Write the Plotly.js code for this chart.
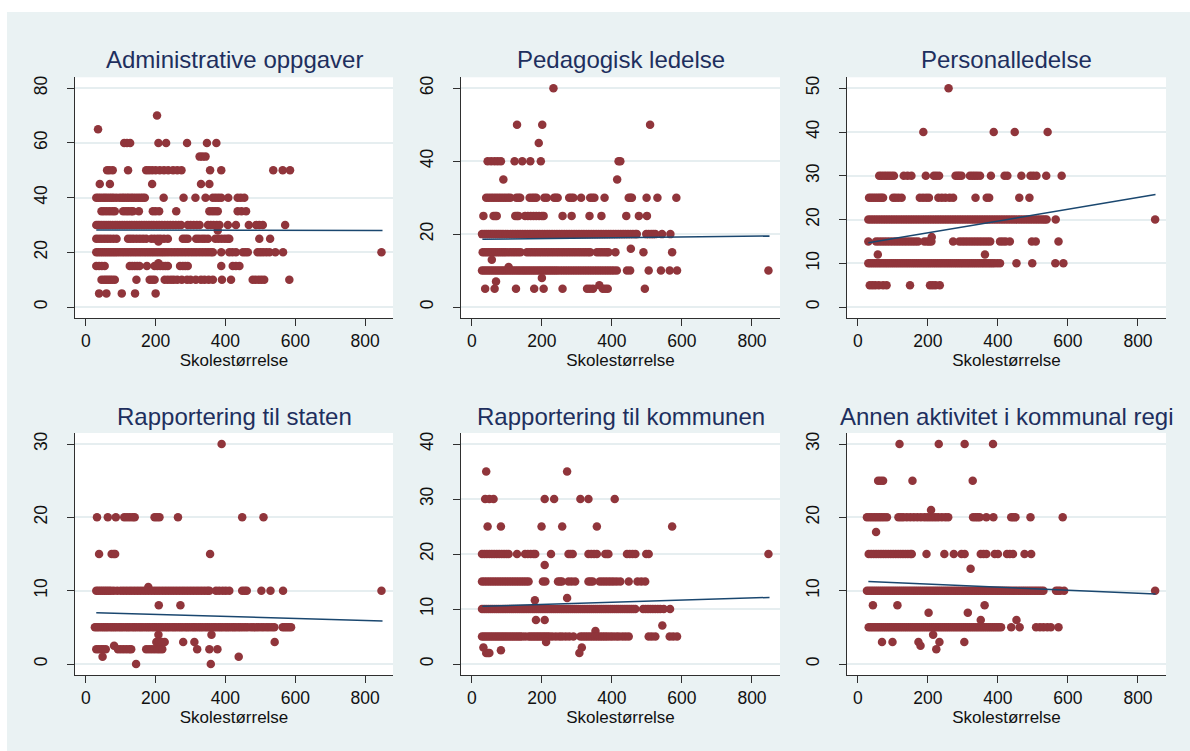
<!DOCTYPE html>
<html><head><meta charset="utf-8">
<script src="https://cdn.plot.ly/plotly-3.0.1.min.js"></script>
<style>html,body{margin:0;padding:0;background:#fff;} #chart{width:1190px;height:751px;}</style>
</head><body><div id="chart"></div><script>
// ---------------- data ----------------
const titles = ["Administrative oppgaver", "Pedagogisk ledelse", "Personalledelse",
                "Rapportering til staten", "Rapportering til kommunen", "Annen aktivitet i kommunal regi"];
const xTitle = "Skolestørrelse";
const xTicks = [0, 200, 400, 600, 800];
const yTicks1 = [0, 20, 40, 60, 80];
const yTicks2 = [0, 20, 40, 60];
const yTicks3 = [0, 10, 20, 30, 40, 50];
const yTicks4 = [0, 10, 20, 30];
const yTicks5 = [0, 10, 20, 30, 40];
const yTicks6 = [0, 10, 20, 30];

// rows: [y value, [school sizes x]]
const adminRows = [
 [70, [204]],
 [65, [35]],
 [60, [110, 118, 127, 208, 230, 290, 347, 374]],
 [55, [326, 334, 343]],
 [50, [61, 68, 77, 121, 173, 181, 190, 200, 212, 224, 236, 250, 262, 274, 356, 388, 537, 564, 585]],
 [45, [40, 69, 190, 330, 354]],
 [40, [30, 36, 42, 49, 55, 61, 68, 74, 80, 88, 97, 104, 110, 117, 123, 130, 136, 143, 150, 157, 163, 169, 223, 280, 314, 343, 364, 372, 380, 388, 408, 435, 444, 454]],
 [35, [45, 52, 60, 68, 76, 83, 107, 115, 122, 130, 135, 152, 192, 200, 210, 259, 354, 362, 370, 378, 435, 446, 459]],
 [30, [30, 35, 40, 46, 52, 58, 64, 70, 77, 84, 90, 97, 104, 111, 118, 125, 132, 139, 146, 153, 160, 167, 174, 181, 188, 195, 203, 210, 218, 226, 234, 242, 250, 258, 266, 273, 292, 300, 309, 318, 326, 350, 358, 366, 375, 383, 407, 430, 467, 488, 497, 507, 571]],
 [28, [378]],
 [25, [30, 38, 46, 54, 62, 70, 79, 88, 121, 129, 137, 146, 155, 164, 173, 188, 197, 206, 214, 224, 235, 278, 285, 292, 316, 324, 333, 341, 350, 371, 380, 389, 398, 406, 411, 497, 528]],
 [24, [208]],
 [20, [30, 36, 42, 48, 54, 60, 66, 72, 78, 84, 90, 97, 104, 111, 118, 125, 132, 139, 146, 153, 160, 167, 174, 181, 188, 195, 202, 209, 216, 223, 230, 238, 246, 254, 262, 270, 278, 286, 294, 302, 310, 318, 326, 334, 342, 350, 358, 364, 388, 411, 420, 430, 450, 457, 464, 492, 500, 508, 517, 526, 543, 565, 847]],
 [16, [208]],
 [15, [30, 38, 46, 54, 126, 133, 140, 147, 154, 175, 197, 205, 213, 221, 228, 235, 270, 278, 285, 292, 388, 421, 430, 440]],
 [10, [45, 52, 58, 64, 70, 76, 83, 145, 183, 190, 197, 226, 235, 244, 252, 262, 275, 290, 300, 315, 330, 340, 352, 364, 390, 416, 478, 486, 495, 503, 511, 583]],
 [5, [38, 59, 103, 141, 200]]
];
const pedRows = [
 [60, [233]],
 [50, [129, 201, 509]],
 [45, [191]],
 [40, [45, 55, 65, 74, 83, 122, 144, 167, 197, 419, 424]],
 [35, [90, 415]],
 [30, [41, 48, 55, 62, 69, 76, 83, 90, 97, 104, 110, 127, 133, 138, 165, 172, 178, 184, 207, 214, 235, 240, 245, 278, 284, 290, 312, 338, 344, 350, 379, 448, 453, 457, 499, 530, 584]],
 [25, [33, 62, 67, 71, 124, 129, 133, 152, 160, 168, 176, 184, 192, 200, 205, 259, 285, 336, 370, 441, 477, 500]],
 [20, [29, 35, 41, 47, 53, 59, 65, 71, 77, 83, 89, 96, 103, 110, 117, 124, 131, 138, 145, 152, 159, 166, 173, 180, 187, 194, 201, 208, 215, 222, 229, 236, 243, 250, 257, 264, 271, 278, 285, 292, 299, 306, 313, 320, 327, 334, 341, 348, 355, 362, 369, 376, 383, 390, 397, 404, 411, 418, 425, 432, 439, 446, 453, 460, 467, 471, 498, 505, 512, 518, 524, 543, 567]],
 [16, [454]],
 [15, [31, 37, 43, 49, 55, 61, 67, 73, 79, 85, 91, 97, 104, 111, 118, 125, 132, 139, 157, 164, 171, 178, 185, 192, 199, 206, 213, 220, 227, 234, 241, 248, 255, 262, 269, 276, 283, 290, 297, 304, 311, 318, 325, 332, 338, 357, 364, 371, 378, 385, 390, 410, 490, 572]],
 [13, [57]],
 [11, [105]],
 [10, [29, 35, 41, 47, 53, 59, 65, 71, 77, 83, 89, 95, 101, 107, 113, 119, 125, 131, 137, 143, 149, 155, 161, 167, 173, 179, 185, 191, 197, 203, 209, 215, 221, 227, 233, 239, 245, 252, 259, 266, 273, 280, 287, 294, 301, 308, 315, 322, 329, 336, 343, 350, 357, 364, 371, 378, 385, 392, 399, 406, 414, 443, 452, 505, 540, 565, 586, 847]],
 [8, [200]],
 [7, [69]],
 [6, [364]],
 [5, [38, 65, 126, 178, 205, 259, 329, 337, 346, 374, 381, 388, 494]]
];
const persRows = [
 [50, [259]],
 [40, [187, 388, 448, 542]],
 [30, [61, 68, 75, 82, 89, 96, 103, 131, 142, 153, 194, 217, 224, 232, 279, 285, 290, 296, 320, 327, 334, 341, 349, 380, 419, 427, 467, 493, 501, 510, 538, 582]],
 [25, [32, 38, 44, 50, 56, 62, 67, 72, 101, 108, 116, 125, 177, 186, 195, 203, 230, 240, 250, 262, 272, 336, 368, 375, 461, 490]],
 [20, [30, 37, 44, 51, 58, 65, 72, 79, 86, 93, 100, 107, 114, 121, 128, 135, 142, 149, 156, 163, 170, 177, 184, 191, 198, 205, 212, 219, 226, 233, 240, 247, 254, 261, 268, 275, 282, 289, 296, 303, 310, 317, 324, 331, 338, 345, 352, 359, 366, 373, 380, 387, 394, 401, 408, 415, 422, 429, 436, 443, 450, 457, 464, 471, 478, 485, 492, 499, 506, 513, 520, 527, 533, 539, 565, 849]],
 [16, [211]],
 [15, [30, 52, 60, 68, 76, 84, 92, 100, 108, 116, 124, 132, 140, 148, 156, 164, 172, 190, 198, 204, 210, 272, 290, 298, 306, 314, 322, 330, 338, 346, 354, 362, 370, 378, 406, 414, 422, 434, 497, 508, 573]],
 [12, [57, 363]],
 [10, [30, 36, 42, 48, 54, 60, 66, 72, 78, 84, 90, 96, 102, 108, 114, 120, 126, 132, 138, 144, 150, 156, 162, 168, 174, 180, 186, 192, 198, 204, 210, 216, 222, 228, 234, 240, 246, 252, 258, 264, 270, 276, 282, 288, 294, 300, 306, 312, 318, 324, 330, 336, 342, 348, 354, 360, 366, 372, 378, 384, 390, 398, 406, 453, 498, 564, 587]],
 [5, [34, 42, 50, 60, 72, 82, 149, 206, 214, 222, 234]]
];
const statRows = [
 [30, [389]],
 [20, [32, 63, 86, 110, 118, 126, 134, 140, 197, 204, 211, 264, 448, 509]],
 [15, [38, 74, 80, 84, 356]],
 [10.5, [179]],
 [10, [30, 36, 42, 48, 54, 60, 66, 72, 80, 90, 100, 108, 116, 124, 132, 140, 148, 156, 164, 172, 180, 188, 196, 204, 212, 220, 228, 236, 244, 252, 260, 268, 276, 284, 292, 300, 308, 316, 324, 332, 340, 348, 354, 373, 382, 392, 401, 411, 448, 455, 461, 503, 529, 565, 847]],
 [8, [209, 271]],
 [5, [26, 32, 38, 45, 51, 57, 63, 70, 76, 82, 88, 95, 101, 107, 114, 120, 126, 133, 139, 145, 152, 158, 164, 171, 177, 183, 190, 196, 202, 209, 215, 221, 228, 234, 240, 247, 253, 259, 266, 272, 278, 285, 291, 297, 304, 310, 316, 323, 329, 335, 342, 348, 354, 361, 367, 373, 380, 386, 392, 399, 405, 411, 418, 424, 430, 437, 443, 450, 457, 464, 473, 480, 488, 495, 503, 510, 518, 525, 533, 540, 564, 570, 576, 582, 588]],
 [4, [208, 360]],
 [3, [202, 210, 218, 226, 279, 311, 541]],
 [2.5, [81]],
 [2, [30, 37, 44, 50, 57, 92, 100, 108, 116, 124, 130, 173, 181, 189, 197, 205, 212, 219, 319, 354, 377]],
 [1, [48, 438]],
 [0, [144, 358]]
];
const kommRows = [
 [35, [41, 272]],
 [30, [38, 50, 62, 208, 235, 310, 333, 408]],
 [25, [45, 83, 199, 258, 357, 572]],
 [20, [29, 36, 43, 50, 57, 64, 71, 78, 85, 92, 99, 105, 129, 152, 160, 168, 176, 181, 226, 276, 282, 288, 333, 341, 349, 357, 381, 386, 390, 443, 451, 459, 467, 498, 505, 847]],
 [18, [208]],
 [15, [29, 36, 43, 50, 57, 64, 71, 78, 85, 92, 99, 106, 113, 120, 127, 134, 141, 148, 155, 162, 203, 210, 246, 252, 257, 276, 285, 295, 333, 339, 345, 365, 373, 381, 389, 397, 405, 414, 424, 448, 473, 484, 495]],
 [12, [272]],
 [11.6, [180]],
 [10, [29, 35, 41, 47, 53, 59, 65, 71, 77, 83, 89, 95, 101, 107, 113, 119, 125, 131, 137, 143, 149, 155, 161, 167, 173, 179, 185, 191, 197, 203, 209, 215, 221, 227, 233, 239, 245, 251, 257, 263, 269, 275, 281, 287, 293, 299, 305, 311, 317, 323, 329, 335, 341, 347, 353, 359, 365, 371, 377, 383, 389, 395, 401, 407, 413, 419, 425, 431, 437, 443, 449, 455, 461, 467, 489, 496, 503, 510, 517, 524, 531, 538, 548, 566]],
 [8, [183, 208]],
 [7, [544]],
 [6, [353]],
 [5, [29, 35, 41, 47, 53, 59, 65, 71, 77, 83, 89, 95, 101, 107, 113, 119, 125, 131, 137, 143, 152, 162, 168, 174, 180, 186, 192, 198, 204, 210, 216, 222, 230, 240, 250, 258, 268, 278, 290, 310, 317, 324, 331, 338, 345, 352, 359, 366, 373, 380, 387, 395, 403, 412, 420, 430, 439, 448, 505, 514, 524, 565, 575, 586]],
 [4, [212]],
 [3, [33, 314]],
 [2.5, [83]],
 [2, [41, 46, 50, 307]]
];
const annenRows = [
 [30, [119, 231, 305, 386]],
 [25, [58, 65, 72, 156, 328]],
 [21, [209]],
 [20, [26, 33, 40, 47, 54, 61, 68, 75, 83, 116, 123, 130, 140, 150, 160, 170, 180, 190, 198, 206, 214, 222, 230, 240, 250, 258, 329, 336, 342, 348, 367, 387, 438, 444, 450, 493, 585]],
 [18, [52]],
 [15, [31, 38, 45, 52, 59, 66, 73, 80, 87, 94, 101, 108, 115, 122, 129, 136, 143, 150, 154, 196, 247, 274, 296, 305, 351, 359, 367, 391, 400, 426, 434, 443, 476, 495]],
 [13, [322]],
 [10, [26, 32, 38, 44, 50, 56, 62, 68, 74, 80, 86, 92, 98, 104, 110, 116, 122, 128, 134, 140, 146, 152, 158, 164, 170, 176, 182, 188, 194, 200, 206, 212, 218, 224, 230, 236, 242, 248, 254, 260, 266, 272, 278, 284, 290, 296, 302, 308, 314, 320, 326, 332, 338, 344, 350, 356, 362, 368, 374, 380, 386, 392, 398, 404, 410, 416, 422, 428, 434, 440, 446, 452, 458, 464, 470, 476, 482, 488, 494, 500, 506, 512, 518, 524, 530, 566, 572, 578, 589, 849]],
 [8, [43, 113, 362]],
 [7, [202, 314]],
 [6, [351, 453]],
 [5, [31, 37, 43, 49, 55, 61, 67, 73, 79, 85, 91, 97, 103, 109, 115, 121, 127, 133, 139, 145, 151, 157, 163, 169, 175, 181, 187, 193, 199, 205, 211, 217, 223, 229, 235, 241, 247, 253, 259, 265, 271, 277, 283, 289, 295, 301, 307, 313, 319, 325, 331, 337, 343, 349, 355, 361, 367, 373, 379, 385, 391, 397, 403, 409, 438, 462, 509, 520, 530, 541, 551, 573]],
 [4, [215]],
 [3, [69, 99, 173, 233, 304]],
 [2.5, [179]],
 [2, [224]]
];
// fitted linear-prediction lines (end values)
const fitX = [30, 850];
const fitAdmin = [28.2, 28.0];
const fitPed = [18.6, 19.5];
const fitPers = [14.7, 25.7];
const fitStat = [7.0, 5.85];
const fitKomm = [10.5, 12.1];
const fitAnnen = [11.25, 9.55];

// ---------------- build ----------------
const panels = [
  {rows: adminRows, fit: fitAdmin, ticks: yTicks1},
  {rows: pedRows, fit: fitPed, ticks: yTicks2},
  {rows: persRows, fit: fitPers, ticks: yTicks3},
  {rows: statRows, fit: fitStat, ticks: yTicks4},
  {rows: kommRows, fit: fitKomm, ticks: yTicks5},
  {rows: annenRows, fit: fitAnnen, ticks: yTicks6}
];
const W = 1190, H = 751;
const colPx = [[75, 393], [461, 780], [847, 1166]];
const rowPx = [[77.3, 318], [433, 675]];
const markerColor = '#90353b';
const lineColor = '#1a476f';
const titleColor = '#1e2f5e';
const axisColor = '#2f2f2f';

const traces = [];
const layout = {
  width: W, height: H,
  margin: {l: 0, r: 0, t: 0, b: 0},
  paper_bgcolor: '#eaf2f3',
  plot_bgcolor: '#ffffff',
  showlegend: false,
  font: {family: 'Liberation Sans, Arial, sans-serif', color: '#111111'},
  annotations: [],
  shapes: [
    {type: 'rect', xref: 'paper', yref: 'paper', x0: 0, x1: 7 / W, y0: 0, y1: 1, fillcolor: '#ffffff', line: {width: 0}},
    {type: 'rect', xref: 'paper', yref: 'paper', x0: 0, x1: 1, y0: 1 - 12 / H, y1: 1, fillcolor: '#ffffff', line: {width: 0}}
  ]
};

panels.forEach((p, i) => {
  const n = i + 1;
  const xs = [], ys = [];
  p.rows.forEach(r => r[1].forEach(x => { xs.push(x); ys.push(r[0]); }));
  const xa = n === 1 ? 'x' : 'x' + n, ya = n === 1 ? 'y' : 'y' + n;
  traces.push({type: 'scatter', mode: 'markers', x: xs, y: ys, xaxis: xa, yaxis: ya,
    marker: {color: markerColor, size: 8.5, line: {width: 0}}, hoverinfo: 'x+y'});
  traces.push({type: 'scatter', mode: 'lines', x: fitX, y: p.fit, xaxis: xa, yaxis: ya,
    line: {color: lineColor, width: 1.5}, hoverinfo: 'skip'});
  const col = colPx[i % 3], row = rowPx[Math.floor(i / 3)];
  const ymax = p.ticks[p.ticks.length - 1];
  layout[n === 1 ? 'xaxis' : 'xaxis' + n] = {
    domain: [col[0] / W, col[1] / W], anchor: ya, range: [-31, 880],
    tickvals: xTicks, ticks: 'outside', ticklen: 7, tickwidth: 1.3, tickcolor: axisColor,
    showline: true, linecolor: axisColor, linewidth: 1.3, showgrid: false, zeroline: false,
    tickfont: {size: 17.5, color: '#111'},
    title: {text: xTitle, font: {size: 17, color: '#111'}, standoff: 2}
  };
  layout[n === 1 ? 'yaxis' : 'yaxis' + n] = {
    domain: [1 - row[1] / H, 1 - row[0] / H], anchor: xa, range: [-0.05 * ymax, 1.05 * ymax],
    tickvals: p.ticks, ticks: 'outside', ticklen: 7, tickwidth: 1.3, tickcolor: axisColor,
    showline: true, linecolor: axisColor, linewidth: 1.3, showgrid: true, gridcolor: '#e6eef0', gridwidth: 1.5,
    zeroline: false, tickangle: -90, tickfont: {size: 17.5, color: '#111'}, ticklabelstandoff: 13
  };
  layout.annotations.push({
    text: titles[i], xref: 'paper', yref: 'paper', showarrow: false,
    x: (col[0] + col[1]) / 2 / W, xanchor: 'center',
    y: 1 - (i < 3 ? 60 : 416.5) / H, yanchor: 'middle',
    font: {size: 24, color: titleColor}
  });
});

Plotly.newPlot('chart', traces, layout, {displayModeBar: false, staticPlot: false});
</script></body></html>
